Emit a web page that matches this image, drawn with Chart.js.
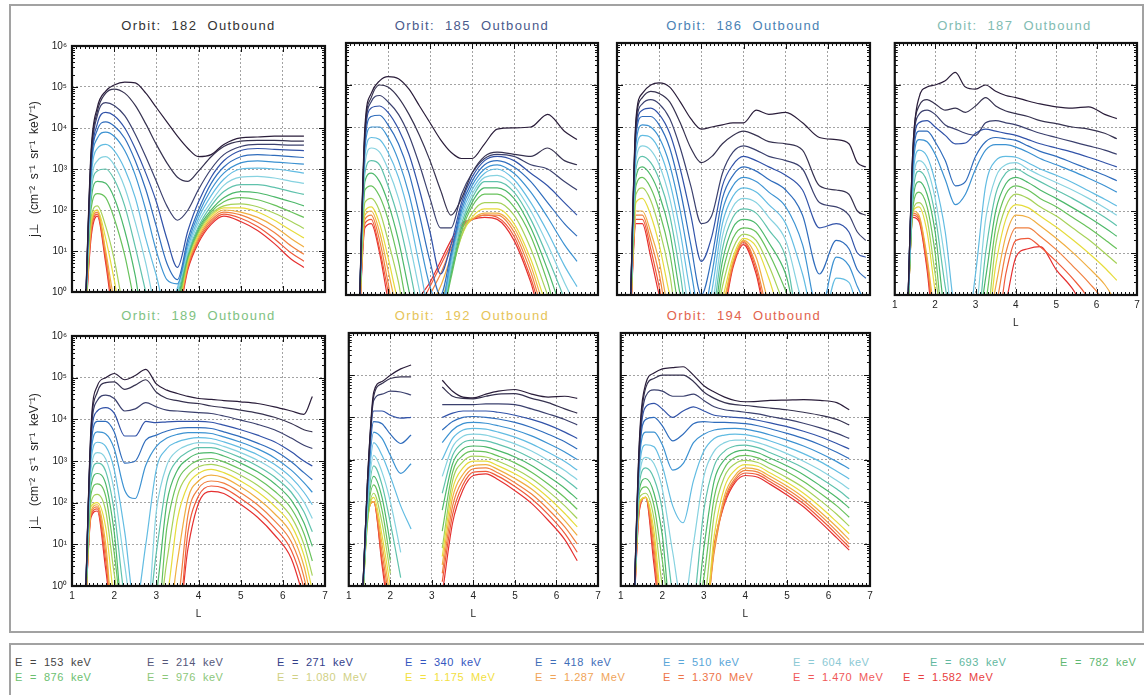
<!DOCTYPE html>
<html>
<head>
<meta charset="utf-8">
<script src="https://cdn.jsdelivr.net/npm/chart.js@4.4.0/dist/chart.umd.min.js"></script>
<style>
  body { margin: 0; background: #fff; width: 1144px; height: 695px; overflow: hidden; position: relative;
         font-family: "Liberation Sans", Arial, sans-serif; }
  #frame { position: absolute; left: 9px; top: 4px; width: 1131px; height: 625px; border: 2px solid #a2a2a2; }
  #legendBox { position: absolute; left: 9px; top: 643px; width: 1160px; height: 80px; border: 2px solid #a2a2a2; }
  .ptitle { position: absolute; font-size: 13px; line-height: 15px; text-align: center; white-space: pre; letter-spacing: 1.4px; }
  .leg { position: absolute; font-size: 11px; white-space: pre; letter-spacing: 0.5px; line-height: 14px; }
  canvas { position: absolute; }
</style>
</head>
<body>
<div id="frame"></div>
<div id="legendBox"></div>
<script>
const N = null;

// L values (x) shared by every series; values below are log10 of the flux
const lGrid = [1.3, 1.45, 1.6, 1.8, 2.0, 2.25, 2.5, 2.75, 3.0, 3.25, 3.5, 3.75, 4.0, 4.3, 4.6, 5.0, 5.4, 5.8, 6.2, 6.5, 6.7, 6.9];

const energyLabels = ['E = 153 keV', 'E = 214 keV', 'E = 271 keV', 'E = 340 keV', 'E = 418 keV', 'E = 510 keV',
  'E = 604 keV', 'E = 693 keV', 'E = 782 keV', 'E = 876 keV', 'E = 976 keV', 'E = 1.080 MeV', 'E = 1.175 MeV',
  'E = 1.287 MeV', 'E = 1.370 MeV', 'E = 1.470 MeV', 'E = 1.582 MeV'];
const orbitTitles = ['Orbit:  182  Outbound', 'Orbit:  185  Outbound', 'Orbit:  186  Outbound', 'Orbit:  187  Outbound',
  'Orbit:  189  Outbound', 'Orbit:  192  Outbound', 'Orbit:  194  Outbound'];
const xTickValues = [1, 2, 3, 4, 5, 6, 7];
const yTickValues = [1, 10, 100, 1000, 10000, 100000, 1000000];
const yTickLabels = ['10⁰', '10¹', '10²', '10³', '10⁴', '10⁵', '10⁶'];

const logFlux182 = [
  [-1, 3.4, 4.5, 4.9, 5.05, 5.12, 5.1, 4.85, 4.5, 4.15, 3.8, 3.5, 3.3, 3.35, 3.6, 3.76, 3.78, 3.8, 3.8, 3.8],
  [-1, 3.3, 4.4, 4.85, 4.95, 4.85, 4.55, 4.1, 3.6, 3.15, 2.8, 2.7, 2.95, 3.3, 3.55, 3.68, 3.7, 3.7, 3.68, 3.68],
  [-1, 3.2, 4.3, 4.62, 4.55, 4.3, 3.85, 3.3, 2.7, 2.1, 1.75, 2.0, 2.5, 3.0, 3.35, 3.55, 3.6, 3.6, 3.58, 3.58],
  [-1, 3.1, 4.1, 4.38, 4.3, 4.0, 3.5, 2.9, 2.2, 1.3, 0.6, 1.5, 2.2, 2.8, 3.2, 3.45, 3.5, 3.48, 3.46, 3.45],
  [-1, 3.0, 3.95, 4.15, 4.05, 3.75, 3.2, 2.5, 1.6, 0.7, 0.3, 1.3, 2.0, 2.65, 3.05, 3.3, 3.35, 3.33, 3.3, 3.28],
  [-1, 2.9, 3.75, 3.9, 3.8, 3.45, 2.85, 2.0, 1.0, 0.3, 0.2, 1.2, 1.9, 2.5, 2.9, 3.15, 3.2, 3.17, 3.14, 3.12],
  [-1, 2.7, 3.5, 3.6, 3.45, 3.0, 2.3, 1.3, 0.4, -0.5, 0.1, 1.1, 1.8, 2.35, 2.75, 3.0, 3.02, 3.0, 2.95, 2.9],
  [-1, 2.5, 3.2, 3.3, 3.1, 2.55, 1.7, 0.7, -0.5, -1, 0.0, 1.0, 1.7, 2.2, 2.6, 2.8, 2.82, 2.78, 2.7, 2.65],
  [-1, 2.4, 2.95, 3.0, 2.75, 2.1, 1.1, 0.0, -1, -1, -0.1, 0.95, 1.6, 2.1, 2.45, 2.62, 2.62, 2.55, 2.45, 2.38],
  [-1, 2.2, 2.7, 2.65, 2.3, 1.5, 0.4, -1, -1, -1, -0.2, 0.9, 1.55, 2.0, 2.3, 2.45, 2.42, 2.32, 2.2, 2.1],
  [-1, 2.0, 2.4, 2.3, 1.8, 0.9, -0.3, -1, -1, -1, -0.3, 0.85, 1.5, 1.95, 2.2, 2.3, 2.25, 2.12, 1.95, 1.82],
  [-1, 1.8, 2.1, 1.6, 0.8, -0.5, -1, -1, -1, -1, -0.4, 0.8, 1.45, 1.9, 2.1, 2.15, 2.08, 1.92, 1.72, 1.55],
  [-1, 1.7, 2.0, 1.3, 0.3, -1, -1, -1, -1, -1, -0.5, 0.75, 1.4, 1.85, 2.05, 2.05, 1.95, 1.75, 1.5, 1.32],
  [-1, 1.6, 2.0, 1.0, -0.2, -1, -1, -1, -1, -1, -0.5, 0.7, 1.35, 1.8, 2.0, 1.95, 1.82, 1.6, 1.3, 1.1],
  [-1, 1.5, 1.95, 0.9, -0.5, -1, -1, -1, -1, -1, -0.6, 0.65, 1.3, 1.75, 1.95, 1.88, 1.7, 1.45, 1.12, 0.92],
  [-1, 1.4, 1.9, 0.8, -0.6, -1, -1, -1, -1, -1, -0.6, 0.6, 1.25, 1.7, 1.9, 1.8, 1.6, 1.3, 0.95, 0.75],
  [-1, 1.3, 1.85, 0.7, -0.7, -1, -1, -1, -1, -1, -0.7, 0.55, 1.2, 1.65, 1.85, 1.72, 1.5, 1.18, 0.8, 0.6]
];

const logFlux185 = [
  [-1, 4.0, 4.8, 5.1, 5.2, 5.15, 4.9, 4.5, 4.1, 3.7, 3.4, 3.25, 3.25, 3.6, 3.95, 3.98, 4.0, 4.3, 3.9, 3.7],
  [-1, 3.9, 4.7, 5.0, 4.95, 4.7, 4.3, 3.8, 3.2, 2.5, 1.9, 2.3, 2.9, 3.3, 3.4, 3.35, 3.3, 3.5, 3.2, 3.1],
  [-1, 3.8, 4.6, 4.75, 4.6, 4.3, 3.8, 3.1, 2.3, 1.6, 1.6, 2.4, 2.9, 3.25, 3.35, 3.3, 3.1, 3.0, 2.7, 2.5],
  [-1, 3.7, 4.45, 4.5, 4.35, 3.95, 3.35, 2.5, 1.5, 0.5, 1.2, 2.2, 2.8, 3.2, 3.3, 3.2, 2.9, 2.6, 2.2, 1.9],
  [-1, 3.6, 4.25, 4.28, 4.05, 3.6, 2.9, 1.9, 0.8, 0.0, 1.0, 2.1, 2.7, 3.1, 3.2, 3.05, 2.7, 2.2, 1.7, 1.4],
  [-1, 3.5, 4.0, 4.0, 3.75, 3.2, 2.4, 1.3, 0.2, -0.3, 0.9, 2.0, 2.6, 3.0, 3.1, 2.9, 2.45, 1.85, 1.2, 0.8],
  [-1, 3.3, 3.75, 3.7, 3.4, 2.8, 1.9, 0.7, -0.4, -0.5, 0.8, 1.9, 2.5, 2.9, 3.0, 2.75, 2.2, 1.5, 0.7, 0.2],
  [-1, 3.1, 3.5, 3.4, 3.0, 2.3, 1.3, 0.1, -1, -0.6, 0.7, 1.8, 2.4, 2.8, 2.85, 2.6, 2.0, 1.2, 0.3, -0.3],
  [-1, 2.9, 3.2, 3.1, 2.6, 1.8, 0.7, -0.5, -1, -0.6, 0.6, 1.7, 2.3, 2.7, 2.7, 2.45, 1.8, 0.9, -0.1, -1],
  [-1, 2.7, 2.9, 2.7, 2.2, 1.3, 0.1, -1, -1, -0.7, 0.5, 1.6, 2.2, 2.55, 2.55, 2.3, 1.6, 0.6, -0.5, -1],
  [-1, 2.5, 2.6, 2.35, 1.8, 0.8, -0.5, -1, -1, -0.7, 0.4, 1.5, 2.1, 2.4, 2.4, 2.1, 1.4, 0.3, -1, -1],
  [-1, 2.2, 2.3, 2.0, 1.3, 0.3, -1, -1, -1, -0.5, 0.5, 1.4, 1.95, 2.2, 2.2, 1.9, 1.1, 0.0, -1, -1],
  [-1, 2.0, 2.1, 1.7, 0.9, -0.2, -1, -1, -0.8, -0.2, 0.6, 1.4, 1.85, 2.05, 2.05, 1.7, 0.85, -0.3, -1, -1],
  [-1, 1.9, 2.0, 1.5, 0.6, -0.5, -1, -1, -0.3, 0.2, 0.9, 1.5, 1.8, 1.95, 1.95, 1.6, 0.7, -0.5, -1, -1],
  [-1, 1.8, 1.9, 1.3, 0.3, -1, -1, -0.6, 0.0, 0.5, 1.1, 1.6, 1.8, 1.9, 1.9, 1.5, 0.55, -0.7, -1, -1],
  [-1, 1.7, 1.8, 1.1, 0.1, -1, -1, -0.3, 0.2, 0.7, 1.2, 1.65, 1.8, 1.9, 1.85, 1.4, 0.4, -0.8, -1, -1],
  [-1, 1.6, 1.7, 1.0, -0.1, -1, -1, -0.1, 0.3, 0.8, 1.3, 1.7, 1.8, 1.85, 1.8, 1.3, 0.3, -1, -1, -1]
];

const logFlux186 = [
  [-1, 4.2, 4.8, 5.0, 5.05, 4.95, 4.6, 4.2, 3.95, 4.0, 4.05, 4.1, 4.1, 4.4, 4.3, 4.35, 4.1, 3.75, 3.7, 3.6, 3.15, 3.05],
  [-1, 4.1, 4.7, 4.85, 4.8, 4.6, 4.1, 3.5, 3.15, 3.3, 3.6, 3.8, 3.9, 3.8, 3.65, 3.6, 3.45, 2.6, 2.5, 2.4, 2.0, 1.9],
  [-1, 4.0, 4.55, 4.65, 4.55, 4.2, 3.5, 2.6, 1.7, 1.9, 2.9, 3.4, 3.55, 3.45, 3.3, 3.2, 3.0, 2.2, 2.1, 1.9, 1.5, 1.3],
  [-1, 3.9, 4.4, 4.45, 4.3, 3.85, 3.0, 1.9, 0.8, 1.4, 2.6, 3.1, 3.3, 3.2, 3.05, 2.85, 2.5, 1.6, 1.7, 1.5, 1.0, 0.9],
  [-1, 3.8, 4.25, 4.25, 4.05, 3.5, 2.5, 1.2, 0.0, 0.9, 2.3, 2.85, 3.05, 2.95, 2.75, 2.5, 1.9, 0.5, 1.3, 1.1, 0.6, 0.4],
  [-1, 3.6, 4.05, 4.0, 3.75, 3.1, 2.0, 0.6, -0.6, 0.5, 2.0, 2.6, 2.8, 2.7, 2.45, 2.1, 1.2, -0.5, 0.9, 0.7, 0.2, -0.2],
  [-1, 3.4, 3.8, 3.75, 3.45, 2.7, 1.5, 0.0, -1, 0.1, 1.7, 2.35, 2.55, 2.45, 2.15, 1.7, 0.5, -1, 0.4, 0.3, -0.3, -1],
  [-1, 3.2, 3.55, 3.45, 3.1, 2.3, 1.0, -0.6, -1, -0.3, 1.4, 2.1, 2.3, 2.2, 1.85, 1.3, -0.2, -1, -0.2, -0.3, -1, -1],
  [-1, 3.0, 3.3, 3.15, 2.75, 1.9, 0.5, -1, -1, -0.6, 1.1, 1.85, 2.05, 1.95, 1.55, 0.9, -1, -1, -1, -1, -1, -1],
  [-1, 2.8, 3.05, 2.85, 2.4, 1.5, 0.0, -1, -1, -0.8, 0.8, 1.6, 1.8, 1.7, 1.25, 0.5, -1, -1, -1, -1, -1, -1],
  [-1, 2.6, 2.8, 2.55, 2.0, 1.0, -0.5, -1, -1, -1, 0.5, 1.35, 1.6, 1.5, 1.0, 0.1, -1, -1, -1, -1, -1, -1],
  [-1, 2.4, 2.55, 2.25, 1.6, 0.5, -1, -1, -1, -1, 0.2, 1.1, 1.45, 1.3, 0.7, -0.3, -1],
  [-1, 2.2, 2.3, 1.9, 1.2, 0.0, -1, -1, -1, -1, -0.1, 0.9, 1.35, 1.15, 0.4, -0.8, -1],
  [-1, 2.0, 2.0, 1.5, 0.8, -0.5, -1, -1, -1, -1, -0.3, 0.8, 1.3, 0.9, -0.2, -1],
  [-1, 1.9, 1.9, 1.3, 0.5, -0.8, -1, -1, -1, -1, -0.4, 0.75, 1.28, 0.7, -0.5, -1],
  [-1, 1.8, 1.8, 1.1, 0.2, -1, -1, -1, -1, -1, -0.5, 0.7, 1.25, 0.6, -0.7, -1],
  [-1, 1.7, 1.7, 0.9, 0.0, -1, -1, -1, -1, -1, -0.6, 0.65, 1.2, 0.5, -0.8, -1]
];

const logFlux187 = [
  [-1, 3.5, 4.7, 4.95, 5.0, 5.1, 5.3, 4.95, 4.9, 5.0, 4.85, 4.75, 4.7, 4.62, 4.55, 4.48, 4.45, 4.48, 4.3, 4.2],
  [-1, 3.5, 4.5, 4.65, 4.55, 4.4, 4.45, 4.35, 4.5, 4.7, 4.5, 4.38, 4.32, 4.25, 4.15, 4.08, 4.0, 3.95, 3.85, 3.72],
  [-1, 3.4, 4.3, 4.4, 4.3, 4.05, 3.95, 3.85, 3.8, 4.1, 4.15, 4.1, 4.05, 3.95, 3.85, 3.75, 3.65, 3.55, 3.45, 3.35],
  [-1, 3.3, 4.1, 4.15, 4.0, 3.8, 3.6, 3.62, 3.85, 3.95, 3.9, 3.85, 3.8, 3.7, 3.6, 3.5, 3.4, 3.28, 3.15, 3.05],
  [-1, 3.2, 3.9, 3.9, 3.65, 3.2, 2.6, 2.7, 3.3, 3.65, 3.75, 3.72, 3.68, 3.55, 3.42, 3.3, 3.15, 3.0, 2.85, 2.72],
  [-1, 3.0, 3.7, 3.65, 3.35, 2.75, 2.15, 2.4, 3.0, 3.45, 3.58, 3.58, 3.52, 3.4, 3.25, 3.1, 2.95, 2.78, 2.6, 2.45],
  [-1, 2.8, 3.45, 3.3, 2.7, 1.5, -0.5, -1, 0.5, 2.6, 3.2, 3.3, 3.28, 3.15, 3.0, 2.85, 2.68, 2.48, 2.28, 2.12],
  [-1, 2.6, 3.2, 3.0, 2.3, 0.8, -1, -1, -0.5, 1.8, 2.8, 3.1, 3.15, 3.0, 2.85, 2.68, 2.5, 2.3, 2.08, 1.9],
  [-1, 2.4, 2.95, 2.7, 1.9, 0.2, -1, -1, -1, 1.0, 2.4, 2.9, 3.0, 2.85, 2.7, 2.5, 2.3, 2.08, 1.85, 1.65],
  [-1, 2.25, 2.7, 2.4, 1.5, -0.5, -1, -1, -1, 0.4, 2.0, 2.65, 2.8, 2.68, 2.5, 2.3, 2.08, 1.85, 1.6, 1.4],
  [-1, 2.1, 2.45, 2.1, 1.0, -1, -1, -1, -1, -0.2, 1.6, 2.4, 2.6, 2.5, 2.3, 2.1, 1.85, 1.6, 1.32, 1.1],
  [-1, 2.0, 2.2, 1.8, 0.5, -1, -1, -1, -1, -0.8, 1.2, 2.1, 2.4, 2.3, 2.1, 1.88, 1.6, 1.32, 1.0, 0.75],
  [-1, 2.0, 2.1, 1.5, 0.1, -1, -1, -1, -1, -1, 0.7, 1.8, 2.15, 2.08, 1.88, 1.62, 1.32, 1.0, 0.65, 0.35],
  [-1, 2.0, 1.9, 0.9, -0.5, -1, -1, -1, -1, -1, 0.2, 1.4, 1.9, 1.85, 1.65, 1.35, 1.02, 0.65, 0.25, -0.2],
  [-1, 1.95, 1.85, 0.8, -0.7, -1, -1, -1, -1, -1, -0.3, 1.0, 1.6, 1.6, 1.4, 1.08, 0.7, 0.3, -0.2, -1],
  [-1, 1.9, 1.8, 0.7, -0.8, -1, -1, -1, -1, -1, -1, 0.5, 1.3, 1.35, 1.15, 0.8, 0.4, -0.1, -1, -1],
  [-1, 1.85, 1.75, 0.6, -1, -1, -1, -1, -1, -1, -1, -0.2, 0.9, 1.1, 1.15, 0.6, 0.15, -0.5, -1, -1]
];

const logFlux189 = [
  [-1, 3.8, 4.8, 5.0, 5.1, 4.95, 5.05, 5.2, 4.85, 4.7, 4.62, 4.55, 4.5, 4.48, 4.45, 4.42, 4.38, 4.3, 4.2, 4.12, 4.55],
  [-1, 3.7, 4.65, 4.88, 4.9, 4.72, 4.82, 4.95, 4.65, 4.5, 4.45, 4.4, 4.38, 4.32, 4.28, 4.22, 4.15, 4.05, 3.9, 3.75, 3.7],
  [-1, 3.6, 4.45, 4.58, 4.5, 4.2, 4.25, 4.4, 4.3, 4.22, 4.2, 4.18, 4.16, 4.14, 4.08, 3.98, 3.88, 3.75, 3.55, 3.38, 3.3],
  [-1, 3.5, 4.2, 4.28, 4.15, 3.6, 3.6, 3.95, 3.92, 3.94, 3.95, 3.95, 3.95, 3.93, 3.86, 3.75, 3.62, 3.46, 3.22, 3.0, 2.88],
  [-1, 3.35, 3.95, 3.95, 3.7, 2.95, 3.0, 3.5, 3.62, 3.72, 3.78, 3.8, 3.8, 3.78, 3.7, 3.58, 3.43, 3.25, 2.98, 2.72, 2.55],
  [-1, 3.2, 3.7, 3.65, 3.3, 2.3, 2.1, 2.9, 3.35, 3.55, 3.64, 3.68, 3.68, 3.66, 3.58, 3.45, 3.29, 3.08, 2.78, 2.48, 2.25],
  [-1, 3.0, 3.45, 3.35, 2.8, 1.3, -0.5, 1.0, 2.8, 3.3, 3.46, 3.53, 3.56, 3.54, 3.46, 3.32, 3.15, 2.92, 2.6, 2.25, 1.95],
  [-1, 2.8, 3.2, 3.05, 2.3, 0.5, -1, -1, 1.8, 2.9, 3.25, 3.38, 3.44, 3.43, 3.35, 3.2, 3.02, 2.78, 2.42, 2.02, 1.62],
  [-1, 2.6, 2.95, 2.75, 1.8, -0.3, -1, -1, 0.8, 2.5, 3.02, 3.22, 3.32, 3.32, 3.24, 3.08, 2.88, 2.62, 2.25, 1.78, 1.3],
  [-1, 2.4, 2.7, 2.45, 1.3, -1, -1, -1, -0.2, 2.0, 2.78, 3.05, 3.18, 3.2, 3.12, 2.95, 2.74, 2.46, 2.06, 1.52, 0.95],
  [-1, 2.2, 2.45, 2.15, 0.8, -1, -1, -1, -1, 1.4, 2.5, 2.86, 3.02, 3.06, 2.98, 2.8, 2.58, 2.28, 1.86, 1.26, 0.6],
  [-1, 2.0, 2.2, 1.8, 0.3, -1, -1, -1, -1, 0.6, 2.15, 2.66, 2.86, 2.92, 2.85, 2.66, 2.42, 2.1, 1.66, 1.0, 0.25],
  [-1, 1.9, 2.0, 1.4, -0.3, -1, -1, -1, -1, -0.3, 1.6, 2.42, 2.7, 2.8, 2.72, 2.52, 2.26, 1.92, 1.46, 0.74, -0.1],
  [-1, 1.8, 1.95, 1.0, -1, -1, -1, -1, -1, -1, 0.6, 2.1, 2.52, 2.66, 2.6, 2.38, 2.1, 1.74, 1.26, 0.48, -0.45],
  [-1, 1.75, 1.9, 0.8, -1, -1, -1, -1, -1, -1, -0.5, 1.7, 2.34, 2.52, 2.47, 2.24, 1.95, 1.57, 1.06, 0.22, -0.8],
  [-1, 1.7, 1.85, 0.6, -1, -1, -1, -1, -1, -1, -1, 1.3, 2.16, 2.4, 2.35, 2.1, 1.8, 1.4, 0.86, -0.05, -1],
  [-1, 1.65, 1.8, 0.4, -1, -1, -1, -1, -1, -1, -1, 0.9, 1.98, 2.27, 2.22, 1.96, 1.65, 1.23, 0.66, -0.3, -1]
];

const logFlux192 = [
  [-1, 2.5, 4.6, 4.85, 5.0, 5.15, 5.24, N, N, 4.88, 4.62, 4.48, 4.46, 4.55, 4.62, 4.66, 4.55, 4.48, 4.5, 4.45],
  [-1, 2.5, 4.5, 4.8, 4.92, 4.96, 4.96, N, N, 4.72, 4.5, 4.45, 4.44, 4.5, 4.55, 4.56, 4.45, 4.35, 4.2, 4.1],
  [-1, 2.4, 4.4, 4.55, 4.62, 4.6, 4.53, N, N, 4.3, 4.3, 4.3, 4.3, 4.32, 4.32, 4.3, 4.2, 4.08, 3.95, 3.82],
  [-1, 2.4, 4.15, 4.15, 4.05, 3.98, 4.0, N, N, 4.0, 4.1, 4.15, 4.15, 4.15, 4.12, 4.05, 3.95, 3.82, 3.65, 3.5],
  [-1, 2.3, 3.9, 3.85, 3.6, 3.38, 3.58, N, N, 3.7, 3.9, 4.0, 4.02, 4.0, 3.96, 3.88, 3.76, 3.6, 3.42, 3.25],
  [-1, 2.2, 3.65, 3.5, 3.1, 2.67, 2.9, N, N, 3.4, 3.7, 3.85, 3.88, 3.86, 3.8, 3.7, 3.56, 3.38, 3.18, 3.0],
  [-1, 2.0, 3.4, 3.1, 2.6, 1.9, 1.35, N, N, 3.0, 3.5, 3.7, 3.74, 3.72, 3.65, 3.53, 3.37, 3.17, 2.95, 2.75],
  [-1, 1.9, 3.1, 2.7, 2.0, 0.8, N, N, N, 2.6, 3.3, 3.55, 3.6, 3.58, 3.5, 3.37, 3.2, 2.98, 2.74, 2.52],
  [-1, 1.8, 2.85, 2.4, 1.5, 0.2, N, N, N, 2.2, 3.1, 3.4, 3.46, 3.44, 3.36, 3.22, 3.03, 2.8, 2.54, 2.3],
  [-1, 1.7, 2.6, 2.1, 1.0, N, N, N, N, 1.8, 2.9, 3.25, 3.32, 3.3, 3.21, 3.06, 2.86, 2.6, 2.32, 2.06],
  [-1, 1.6, 2.4, 1.8, 0.6, N, N, N, N, 1.3, 2.7, 3.1, 3.2, 3.18, 3.08, 2.92, 2.7, 2.42, 2.1, 1.82],
  [-1, 1.5, 2.2, 1.5, 0.3, N, N, N, N, 0.9, 2.5, 2.95, 3.08, 3.06, 2.96, 2.78, 2.55, 2.25, 1.9, 1.6],
  [-1, 1.5, 2.1, 1.2, 0.0, N, N, N, N, 0.7, 2.3, 2.8, 2.96, 2.96, 2.85, 2.66, 2.42, 2.1, 1.72, 1.4],
  [-1, 1.6, 2.0, 1.0, -0.3, N, N, N, N, 0.5, 2.1, 2.65, 2.86, 2.88, 2.76, 2.55, 2.3, 1.96, 1.55, 1.2],
  [-1, 1.6, 2.0, 0.8, -0.5, N, N, N, N, 0.3, 1.9, 2.52, 2.78, 2.8, 2.68, 2.45, 2.18, 1.82, 1.4, 1.0],
  [-1, 1.7, 2.0, 0.6, -0.7, N, N, N, N, 0.1, 1.7, 2.4, 2.7, 2.72, 2.6, 2.36, 2.07, 1.7, 1.25, 0.8],
  [-1, 1.7, 2.0, 0.5, -1, N, N, N, N, -0.2, 1.5, 2.28, 2.62, 2.66, 2.52, 2.26, 1.96, 1.56, 1.1, 0.6]
];

const logFlux194 = [
  [-1, 3.5, 4.8, 5.05, 5.15, 5.18, 5.2, 5.0, 4.75, 4.6, 4.48, 4.4, 4.37, 4.38, 4.4, 4.41, 4.42, 4.4, 4.35, 4.18],
  [-1, 3.4, 4.7, 4.92, 5.0, 5.0, 5.0, 4.85, 4.6, 4.45, 4.35, 4.3, 4.28, 4.25, 4.22, 4.18, 4.12, 4.05, 3.95, 3.82],
  [-1, 3.3, 4.5, 4.65, 4.62, 4.5, 4.5, 4.55, 4.4, 4.25, 4.18, 4.15, 4.12, 4.08, 4.02, 3.95, 3.86, 3.75, 3.62, 3.5],
  [-1, 3.2, 4.25, 4.33, 4.2, 4.0, 4.15, 4.25, 4.15, 4.05, 4.02, 4.0, 3.98, 3.93, 3.87, 3.78, 3.67, 3.54, 3.38, 3.25],
  [-1, 3.1, 3.95, 4.0, 3.8, 3.44, 3.6, 3.85, 3.9, 3.88, 3.88, 3.87, 3.85, 3.8, 3.73, 3.62, 3.5, 3.35, 3.17, 3.02],
  [-1, 3.0, 3.65, 3.65, 3.35, 2.75, 2.9, 3.4, 3.6, 3.7, 3.73, 3.74, 3.72, 3.66, 3.58, 3.46, 3.32, 3.15, 2.95, 2.78],
  [-1, 2.8, 3.35, 3.3, 2.85, 1.9, 1.5, 2.5, 3.2, 3.5, 3.58, 3.6, 3.59, 3.53, 3.44, 3.3, 3.14, 2.95, 2.72, 2.54],
  [-1, 2.6, 3.05, 2.9, 2.3, 0.8, -0.5, 1.0, 2.6, 3.2, 3.4, 3.46, 3.46, 3.4, 3.3, 3.14, 2.96, 2.75, 2.5, 2.3],
  [-1, 2.45, 2.8, 2.55, 1.8, -0.2, -1, -0.5, 1.8, 2.85, 3.2, 3.32, 3.34, 3.28, 3.16, 2.99, 2.8, 2.56, 2.3, 2.07],
  [-1, 2.3, 2.55, 2.2, 1.2, -1, -1, -1, 0.9, 2.5, 3.0, 3.18, 3.22, 3.16, 3.03, 2.85, 2.64, 2.38, 2.1, 1.85],
  [-1, 2.2, 2.35, 1.9, 0.6, -1, -1, -1, 0.2, 2.1, 2.8, 3.05, 3.1, 3.04, 2.9, 2.71, 2.48, 2.2, 1.9, 1.63],
  [-1, 2.1, 2.2, 1.6, 0.0, -1, -1, -1, -0.5, 1.7, 2.6, 2.9, 2.98, 2.93, 2.78, 2.57, 2.33, 2.03, 1.7, 1.42],
  [-1, 2.0, 2.1, 1.3, -0.6, -1, -1, -1, -1, 1.2, 2.35, 2.75, 2.88, 2.84, 2.68, 2.46, 2.2, 1.88, 1.52, 1.24],
  [-1, 1.95, 2.1, 1.1, -0.8, -1, -1, -1, -1, 0.9, 2.15, 2.62, 2.8, 2.76, 2.6, 2.37, 2.1, 1.76, 1.4, 1.1],
  [-1, 1.9, 2.1, 0.9, -1, -1, -1, -1, -1, 0.8, 2.05, 2.55, 2.74, 2.7, 2.53, 2.3, 2.02, 1.68, 1.3, 1.0],
  [-1, 1.85, 2.1, 0.7, -1, -1, -1, -1, -1, 0.9, 2.0, 2.5, 2.68, 2.64, 2.47, 2.23, 1.95, 1.6, 1.22, 0.92],
  [-1, 1.8, 2.1, 0.5, -1, -1, -1, -1, -1, 1.0, 1.95, 2.45, 2.62, 2.58, 2.41, 2.16, 1.88, 1.52, 1.14, 0.85]
];

const lineColors = ['#2a1d3a', '#363250', '#3b406e', '#3152a8', '#2f6cbc', '#3c92d2', '#62bce2', '#86d2e0',
  '#5fc2ac', '#4cb86a', '#68c25c', '#a6d25a', '#e6dc3c', '#f0ae42', '#f08040', '#ef5a3a', '#e53030'];
const legendColors = ['#444', '#55577a', '#33408a', '#3456c0', '#3f6eb8', '#5aa6d8', '#8cc9d4', '#62b8a0',
  '#5fb872', '#6cbf70', '#8cc77a', '#d0d084', '#f2e040', '#f0a458', '#ee7448', '#f05858', '#e84040'];
const titleColors = ['#333', '#4a5a8c', '#4a82b4', '#82bcb2', '#80c282', '#e6c458', '#e2644e'];
const legendX = [[15, 147, 277, 405, 535, 663, 793, 930, 1060], [15, 147, 277, 405, 535, 663, 793, 903]];
const legendY = [655, 670];

// plot-area boxes [left, top, right, bottom] in page pixels
const panels = [
  { data: logFlux182, box: [72, 43, 325, 295], yLab: true, xLab: false },
  { data: logFlux185, box: [346, 43, 598, 295], yLab: false, xLab: false },
  { data: logFlux186, box: [617, 43, 870, 295], yLab: false, xLab: false },
  { data: logFlux187, box: [892, 43, 1137, 295], yLab: false, xLab: true },
  { data: logFlux189, box: [72, 333, 325, 586], yLab: true, xLab: true },
  { data: logFlux192, box: [346, 333, 598, 586], yLab: false, xLab: true },
  { data: logFlux194, box: [618, 333, 870, 586], yLab: false, xLab: true }
];

Chart.defaults.font.family = '"Liberation Sans", Arial, sans-serif';

// thick frame with inward tick marks, drawn over the curves
const framePlugin = {
  id: 'frame',
  afterDraw(chart) {
    const { ctx, chartArea: a, scales: { x, y } } = chart;
    ctx.save();
    ctx.strokeStyle = '#111';
    ctx.lineWidth = 1;
    ctx.beginPath();
    for (let k = 11; k < 70; k++) {
      const px = Math.round(x.getPixelForValue(k / 10)) + 0.5;
      const len = k % 10 === 0 ? 6 : 3;
      ctx.moveTo(px, a.bottom); ctx.lineTo(px, a.bottom - len);
      ctx.moveTo(px, a.top); ctx.lineTo(px, a.top + len);
    }
    for (let d = 0; d < 6; d++) {
      for (let m = 1; m < 10; m++) {
        const py = Math.round(y.getPixelForValue(m * Math.pow(10, d))) + 0.5;
        const len = m === 1 ? 6 : 3;
        ctx.moveTo(a.left, py); ctx.lineTo(a.left + len, py);
        ctx.moveTo(a.right, py); ctx.lineTo(a.right - len, py);
      }
    }
    ctx.stroke();
    ctx.lineWidth = 2.2;
    ctx.strokeRect(a.left, a.top, a.right - a.left, a.bottom - a.top);
    ctx.restore();
  }
};

panels.forEach((p, idx) => {
  const [l, t, r, b] = p.box;
  const padL = p.yLab ? 52 : 4, padT = 8, padR = 8, padB = p.xLab ? 34 : 8;

  const title = document.createElement('div');
  title.className = 'ptitle';
  title.textContent = orbitTitles[idx];
  title.style.left = l + 'px';
  title.style.width = (r - l) + 'px';
  title.style.top = (t - 25) + 'px';
  title.style.color = titleColors[idx];
  document.body.appendChild(title);

  const canvas = document.createElement('canvas');
  canvas.width = r - l + padL + padR;
  canvas.height = b - t + padT + padB;
  canvas.style.left = (l - padL) + 'px';
  canvas.style.top = (t - padT) + 'px';
  document.body.appendChild(canvas);

  new Chart(canvas.getContext('2d'), {
    type: 'line',
    data: {
      datasets: p.data.map((row, i) => ({
        label: energyLabels[i],
        data: row.map((v, j) => ({ x: lGrid[j], y: v === null ? null : Math.pow(10, v) })),
        borderColor: lineColors[i],
        borderWidth: 1.2,
        pointRadius: 0,
        cubicInterpolationMode: 'monotone',
        spanGaps: false,
        fill: false
      }))
    },
    options: {
      responsive: false,
      animation: false,
      devicePixelRatio: 1,
      layout: { autoPadding: false, padding: { left: 0, top: padT, right: padR, bottom: 0 } },
      plugins: { legend: { display: false }, tooltip: { enabled: false } },
      scales: {
        x: {
          type: 'linear', min: 1, max: 7,
          afterBuildTicks: s => { s.ticks = xTickValues.map(v => ({ value: v })); },
          afterFit: s => { s.height = padB; },
          ticks: { display: p.xLab, color: '#222', font: { size: 10 }, padding: 4, maxRotation: 0, autoSkip: false },
          grid: { color: '#8c8c8c', lineWidth: 0.8, drawTicks: false },
          border: { display: false, dash: [2, 2] },
          title: { display: p.xLab, text: 'L', color: '#222', font: { size: 10 }, padding: { top: 2, bottom: 0 } }
        },
        y: {
          type: 'logarithmic', min: 1, max: 1e6,
          afterBuildTicks: s => { s.ticks = yTickValues.map(v => ({ value: v })); },
          afterFit: s => { s.width = padL; },
          ticks: { display: p.yLab, color: '#222', font: { size: 10 }, padding: 5, callback: (v, i) => yTickLabels[i] },
          grid: { color: '#8c8c8c', lineWidth: 0.8, drawTicks: false },
          border: { display: false, dash: [2, 2] },
          title: { display: p.yLab, text: 'j⊥   (cm⁻²  s⁻¹  sr⁻¹  keV⁻¹)', color: '#222', font: { size: 12 }, padding: { top: 7, bottom: 0 } }
        }
      }
    },
    plugins: [framePlugin]
  });
});

// energy legend at the bottom, as real text
energyLabels.forEach((txt, i) => {
  const row = i < 9 ? 0 : 1;
  const col = row === 0 ? i : i - 9;
  const el = document.createElement('div');
  el.className = 'leg';
  el.textContent = txt.replace(/ /g, '  ');
  el.style.left = legendX[row][col] + 'px';
  el.style.top = legendY[row] + 'px';
  el.style.color = legendColors[i];
  document.body.appendChild(el);
});
</script>
</body>
</html>
